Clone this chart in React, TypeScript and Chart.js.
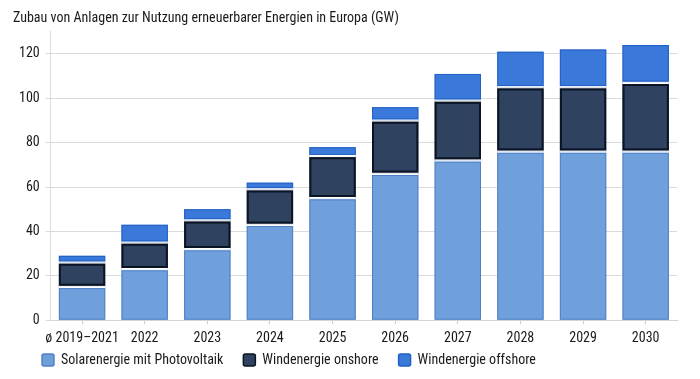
import React, { useEffect, useRef } from "react";
import { Chart, registerables } from "chart.js";

Chart.register(...registerables);

const categories = ["ø 2019–2021", "2022", "2023", "2024", "2025", "2026", "2027", "2028", "2029", "2030"];
const solar = [15, 23, 32, 43, 55, 66, 72, 76, 76, 76];
const onshore = [11, 12, 13, 16, 19, 24, 27, 29, 29, 31];
const offshore = [3, 8, 5, 3, 4, 6, 12, 16, 17, 17];
const seriesNames = ["Solarenergie mit Photovoltaik", "Windenergie onshore", "Windenergie offshore"];
const titleText = "Zubau von Anlagen zur Nutzung erneuerbarer Energien in Europa (GW)";
const yMax = 130;
const yStep = 20;

const fillColors = ["#6fa0dc", "#2f4360", "#3a79d9"];
const outlineColors = ["#4f80c4", "#0a1424", "#2160c4"];
const outlineWidths = [1, 2, 1];
const GAP = 2.4;
const LEGEND_PAD = 2;
const LEGEND_ITEM_GAP = 20;

const FONT = "'Roboto Condensed', 'Liberation Sans Narrow', 'Arial Narrow', 'DejaVu Sans Condensed', Roboto, sans-serif";

const segmentPlugin = {
  id: "segmentOutline",
  afterLayout(chart: any) {
    const lg = chart.legend;
    if (lg) {
      const d = LEGEND_ITEM_GAP - LEGEND_PAD + 2;
      lg.options.labels.padding = LEGEND_ITEM_GAP;
      lg.top -= d;
      lg.left += 9;
      lg.right += 9;
    }
  },
  afterDatasetsDraw(chart: any) {
    const ctx = chart.ctx;
    const metas = chart.getSortedVisibleDatasetMetas();
    ctx.save();
    metas.forEach((meta: any, mi: number) => {
      const di = meta.index;
      meta.data.forEach((bar: any) => {
        const { x, y, base, width } = bar.getProps(["x", "y", "base", "width"], true);
        const left = x - width / 2;
        let top = Math.min(y, base);
        let bottom = Math.max(y, base);
        const g = GAP / 2;
        ctx.fillStyle = "#ffffff";
        if (mi < metas.length - 1) {
          ctx.fillRect(left, top, width, g);
          top += g;
        }
        if (mi > 0) {
          ctx.fillRect(left, bottom - g, width, g);
          bottom -= g;
        }
        const lw = outlineWidths[di];
        ctx.strokeStyle = outlineColors[di];
        ctx.lineWidth = lw;
        ctx.strokeRect(left + lw / 2, top + lw / 2, width - lw, bottom - top - lw);
      });
    });
    ctx.restore();
  },
};

export default function App() {
  const ref = useRef<HTMLCanvasElement | null>(null);

  useEffect(() => {
    if (!ref.current) return;
    const font = { family: FONT, size: 14, weight: "normal" as const };
    const chart = new Chart(ref.current, {
      type: "bar",
      data: {
        labels: categories,
        datasets: [solar, onshore, offshore].map((d, i) => ({
          label: seriesNames[i],
          data: d,
          backgroundColor: fillColors[i],
          borderWidth: 0,
          barPercentage: 0.74,
          categoryPercentage: 1,
        })),
      },
      options: {
        responsive: false,
        animation: false,
        layout: { padding: { left: 13, right: 23, top: 6, bottom: 0 } },
        plugins: {
          title: {
            display: true,
            text: titleText,
            align: "start",
            color: "#1a1a1a",
            font: { ...font, size: 14 },
            padding: { top: 4, bottom: 5 },
          },
          legend: {
            position: "bottom",
            align: "start",
            labels: {
              color: "#1a1a1a",
              font,
              boxWidth: 12,
              boxHeight: 12,
              padding: LEGEND_PAD,
              useBorderRadius: true,
              borderRadius: 2,
              generateLabels: (c: any) => {
                const items = (Chart.defaults.plugins.legend.labels as any).generateLabels(c);
                return items.map((it: any, i: number) => ({
                  ...it,
                  fillStyle: fillColors[i],
                  strokeStyle: outlineColors[i],
                  lineWidth: 1.5,
                }));
              },
            },
          },
          tooltip: { enabled: false },
        },
        scales: {
          x: {
            stacked: true,
            grid: { display: true, drawOnChartArea: false, offset: false, tickLength: 4, color: "#cccccc" },
            border: { display: true, color: "#d4d4d4" },
            ticks: { color: "#1a1a1a", font, padding: 6, maxRotation: 0, autoSkip: false },
          },
          y: {
            stacked: true,
            min: 0,
            max: yMax,
            afterBuildTicks: (ax: any) => {
              ax.ticks = ax.ticks.filter((t: any) => t.value % yStep === 0);
            },
            ticks: { stepSize: yStep, color: "#1a1a1a", font, padding: 6 },
            grid: { color: "#dadada", lineWidth: 1, tickLength: 5 },
            border: { display: true, color: "#dadada" },
          },
        },
      },
      plugins: [segmentPlugin],
    });
    return () => chart.destroy();
  }, []);

  return (
    <div style={{ position: "absolute", left: 0, top: 0, width: 700, height: 379, background: "#fff" }}>
      <canvas ref={ref} width={700} height={379} style={{ display: "block", width: 700, height: 379 }} />
    </div>
  );
}
